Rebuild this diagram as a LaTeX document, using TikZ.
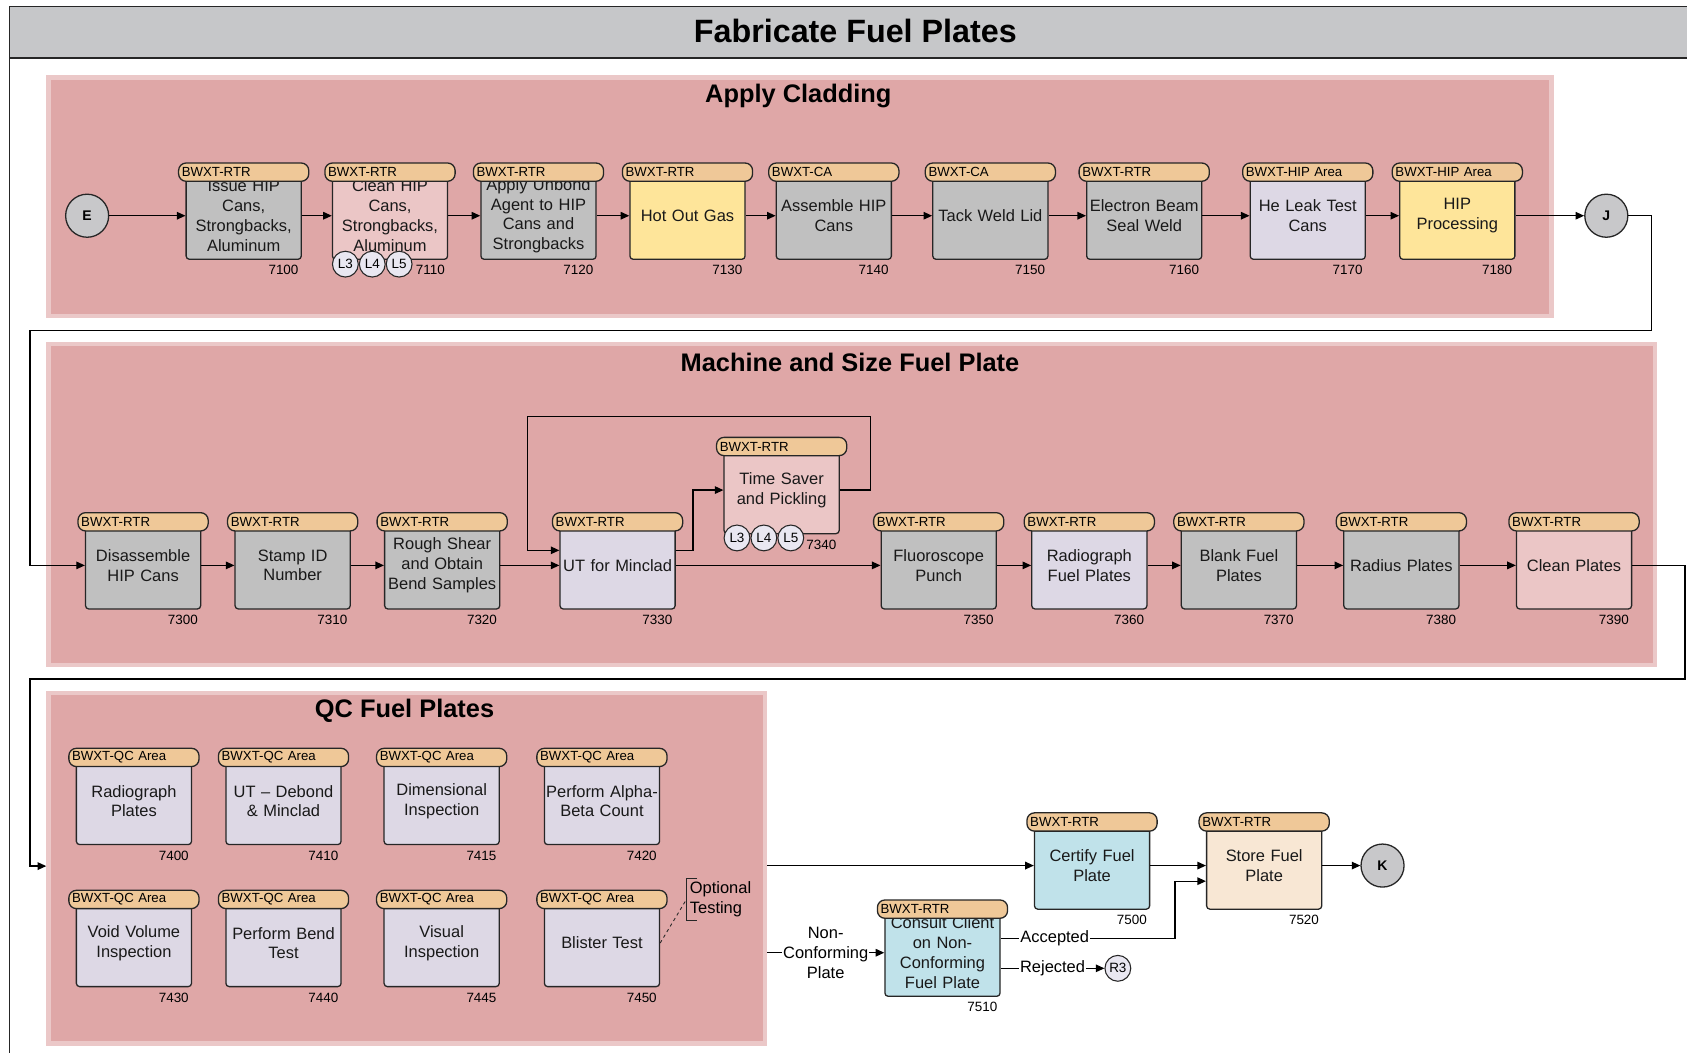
\documentclass[tikz,border=0pt]{standalone}
\usepackage{fontspec}
\setmainfont{Liberation Sans}
\usetikzlibrary{arrows.meta,calc}
\definecolor{panelc}{HTML}{DFA7A7}
\definecolor{panelb}{HTML}{EBC8C8}
\definecolor{tagc}{HTML}{EFC898}
\definecolor{grayc}{HTML}{C0C0C0}
\definecolor{pinkc}{HTML}{EBC6C6}
\definecolor{yelc}{HTML}{FEE59A}
\definecolor{lavc}{HTML}{DDD8E5}
\definecolor{bluec}{HTML}{C0E2EA}
\definecolor{peachc}{HTML}{F8E7D4}
\definecolor{circc}{HTML}{C8C8CA}
\definecolor{lcirc}{HTML}{E9E7F1}
\definecolor{barc}{HTML}{C6C7C9}
\definecolor{linec}{HTML}{262626}
\tikzset{
 body/.style={draw=linec, line width=1.2pt, rounded corners=3pt, minimum width=107pt, minimum height=81pt, inner sep=0pt, text width=107pt, align=center, text=black!90, font=\fontsize{15.3}{18.4}\selectfont},
 tagbox/.style={draw=linec, line width=1.2pt, fill=tagc, rounded corners=7pt, minimum width=121pt, minimum height=17pt, inner sep=0pt, text width=115pt, align=left, font=\fontsize{12.3}{13}\selectfont},
 num/.style={font=\fontsize{12.5}{13}\selectfont, anchor=east, inner sep=0pt},
 conn/.style={draw=black, line width=1.2pt},
 arr/.style={conn, -{Triangle[length=8pt,width=7pt]}},
 bigc/.style={circle, draw=linec, line width=1.2pt, fill=circc, minimum size=40pt, inner sep=0pt, font=\bfseries\fontsize{13}{13}\selectfont},
 lc/.style={circle, draw=linec, line width=1pt, fill=lcirc, minimum size=24pt, inner sep=0pt, font=\fontsize{12.5}{13}\selectfont},
 panel/.style={fill=panelc, draw=panelb, line width=4pt, inner sep=0pt},
 ptitle/.style={font=\bfseries\fontsize{23.6}{26}\selectfont},
 lbl/.style={fill=white, inner sep=1pt, align=center, font=\fontsize{15.3}{18.4}\selectfont},
}
% #1 name, #2 x, #3 y, #4 fill, #5 tag, #6 text, #7 number
\newcommand{\proc}[7]{%
  \node[body, fill=#4] (#1) at (#2,#3) {#6};
  \node[tagbox] (#1t) at (#2,#3-40.5) {#5};
  \node[num] (#1n) at ([xshift=-3pt,yshift=-9.5pt]#1.south east) {#7};
}
\newcommand{\lcircs}[3]{%
  \node[lc] (#1a) at (#2,#3) {L3};
  \node[lc] (#1b) at (#2+25,#3) {L4};
  \node[lc] (#1c) at (#2+50,#3) {L5};
}
\begin{document}
\begin{tikzpicture}[x=1pt,y=-1pt]
\useasboundingbox (0,0) rectangle (1568,978);
\fill[white] (0,0) rectangle (1568,978);
\clip (0,0) rectangle (1568,978);
% frame and title bar
\filldraw[fill=barc, draw=linec, line width=1.5pt] (9,6) rectangle (1590,54);
\draw[linec, line width=1.5pt] (9,54) -- (9,1000);
\node[font=\bfseries\fontsize{30}{32}\selectfont] (title) at (795,29) {Fabricate Fuel Plates};
% panels
\node[panel, minimum width=1397pt, minimum height=222pt] (pac) at (743.5,183) {};
\node[panel, minimum width=1493pt, minimum height=298pt] (pms) at (791.5,469) {};
\node[panel, minimum width=666pt, minimum height=326pt] (qc) at (378,807) {};
\node[ptitle] (tac) at (742,89) {Apply Cladding};
\node[ptitle] (tms) at (790,337) {Machine and Size Fuel Plate};
\node[ptitle] (tqc) at (376,661) {QC Fuel Plates};
% row 1
\node[bigc] (E) at (81,200.5) {E};
\proc{p7100}{226.5}{200.5}{grayc}{BWXT-RTR}{Issue HIP\\Cans,\\Strongbacks,\\Aluminum}{7100}
\proc{p7110}{362.5}{200.5}{pinkc}{BWXT-RTR}{Clean HIP\\Cans,\\Strongbacks,\\Aluminum}{7110}
\lcircs{l7110}{321}{245.5}
\proc{p7120}{500.5}{200.5}{grayc}{BWXT-RTR}{Apply Unbond\\Agent to HIP\\Cans and\\Strongbacks}{7120}
\proc{p7130}{639}{200.5}{yelc}{BWXT-RTR}{Hot Out Gas}{7130}
\proc{p7140}{775}{200.5}{grayc}{BWXT-CA}{Assemble HIP\\Cans}{7140}
\proc{p7150}{920.5}{200.5}{grayc}{BWXT-CA}{Tack Weld Lid}{7150}
\proc{p7160}{1063.5}{200.5}{grayc}{BWXT-RTR}{Electron Beam\\Seal Weld}{7160}
\proc{p7170}{1215.5}{200.5}{lavc}{BWXT-HIP Area}{He Leak Test\\Cans}{7170}
\proc{p7180}{1354.5}{200.5}{yelc}{BWXT-HIP Area}{HIP\\Processing}{7180}
\node[bigc] (J) at (1493,200.5) {J};
% row 2
\proc{p7300}{133}{525.5}{grayc}{BWXT-RTR}{Disassemble\\HIP Cans}{7300}
\proc{p7310}{272}{525.5}{grayc}{BWXT-RTR}{Stamp ID\\Number}{7310}
\proc{p7320}{411}{525.5}{grayc}{BWXT-RTR}{Rough Shear\\and Obtain\\Bend Samples}{7320}
\proc{p7330}{574}{525.5}{lavc}{BWXT-RTR}{UT for Minclad}{7330}
\proc{p7340}{726.5}{455.5}{pinkc}{BWXT-RTR}{Time Saver\\and Pickling}{7340}
\lcircs{l7340}{685}{500}
\proc{p7350}{872.5}{525.5}{grayc}{BWXT-RTR}{Fluoroscope\\Punch}{7350}
\proc{p7360}{1012.5}{525.5}{lavc}{BWXT-RTR}{Radiograph\\Fuel Plates}{7360}
\proc{p7370}{1151.5}{525.5}{grayc}{BWXT-RTR}{Blank Fuel\\Plates}{7370}
\proc{p7380}{1302.5}{525.5}{grayc}{BWXT-RTR}{Radius Plates}{7380}
\proc{p7390}{1463}{525.5}{pinkc}{BWXT-RTR}{Clean Plates}{7390}
% QC
\proc{p7400}{124.5}{744.5}{lavc}{BWXT-QC Area}{Radiograph\\Plates}{7400}
\proc{p7410}{263.5}{744.5}{lavc}{BWXT-QC Area}{UT – Debond\\\& Minclad}{7410}
\proc{p7415}{410.5}{744.5}{lavc}{BWXT-QC Area}{Dimensional\\Inspection}{7415}
\proc{p7420}{559.5}{744.5}{lavc}{BWXT-QC Area}{Perform Alpha-\\Beta Count}{7420}
\proc{p7430}{124.5}{876.5}{lavc}{BWXT-QC Area}{Void Volume\\Inspection}{7430}
\proc{p7440}{263.5}{876.5}{lavc}{BWXT-QC Area}{Perform Bend\\Test}{7440}
\proc{p7445}{410.5}{876.5}{lavc}{BWXT-QC Area}{Visual\\Inspection}{7445}
\proc{p7450}{559.5}{876.5}{lavc}{BWXT-QC Area}{Blister Test}{7450}
\node[lbl, fill=none, align=left, anchor=west, inner sep=3pt] (opt) at (638,836) {Optional\\Testing};
\draw[linec, line width=1pt] ([xshift=10pt]opt.north west) -- (opt.north west) -- (opt.south west) -- ([xshift=10pt]opt.south west);
\draw[linec, line width=0.8pt, dashed] (p7450.east) -- (opt.west);
% bottom
\proc{p7500}{1015}{804.5}{bluec}{BWXT-RTR}{Certify Fuel\\Plate}{7500}
\proc{p7520}{1175}{804.5}{peachc}{BWXT-RTR}{Store Fuel\\Plate}{7520}
\proc{p7510}{876}{885.5}{bluec}{BWXT-RTR}{Consult Client\\on Non-\\Conforming\\Fuel Plate}{7510}
\node[bigc] (K) at (1285,804.5) {K};
\node[lc, minimum size=24pt] (R3) at (1039,900) {R3};
% coordinates for loops
\coordinate (j1) at (1535,307);
\coordinate (j2) at (28,307);
\coordinate (lp1) at (809,387);
\coordinate (lp2) at (490,387);
\coordinate (q1) at (1566,631);
\coordinate (q2) at (28,631);
\coordinate (qin) at (43,805);
% connectors row 1
\draw[arr] (E) -- (p7100);
\draw[arr] (p7100) -- (p7110);
\draw[arr] (p7110) -- (p7120);
\draw[arr] (p7120) -- (p7130);
\draw[arr] (p7130) -- (p7140);
\draw[arr] (p7140) -- (p7150);
\draw[arr] (p7150) -- (p7160);
\draw[arr] (p7160) -- (p7170);
\draw[arr] (p7170) -- (p7180);
\draw[arr] (p7180) -- (J);
\draw[arr] (J.east) -| (j1) -- (j2) |- (p7300.west);
% row 2
\draw[arr] (p7300) -- (p7310);
\draw[arr] (p7310) -- (p7320);
\draw[arr] (p7320) -- (p7330);
\draw[arr] (p7330) -- (p7350);
\draw[arr] ([yshift=14pt]p7330.east) -- ++(16,0) |- (p7340.west);
\draw[arr] (p7340.east) -| (lp1) -- (lp2) |- ([yshift=14pt]p7330.west);
\draw[arr] (p7350) -- (p7360);
\draw[arr] (p7360) -- (p7370);
\draw[arr] (p7370) -- (p7380);
\draw[arr] (p7380) -- (p7390);
\draw[arr] (p7390.east) -| (q1) -- (q2) |- (qin);
% bottom
\draw[arr] (qc.east |- p7500) -- (p7500);
\draw[arr] (qc.east |- p7510) -- node[lbl] {Non-\\Conforming\\Plate} (p7510);
\draw[arr] (p7500) -- (p7520);
\draw[arr] (p7520) -- (K);
\draw[arr] ([yshift=13.5pt]p7510.east) -- node[lbl, pos=0.31] {Accepted} ++(162,0) |- ([yshift=-14.5pt]p7520.west);
\draw[arr] ([yshift=-14.5pt]p7510.east) -- node[lbl] {Rejected} (R3);
\end{tikzpicture}
\end{document}
